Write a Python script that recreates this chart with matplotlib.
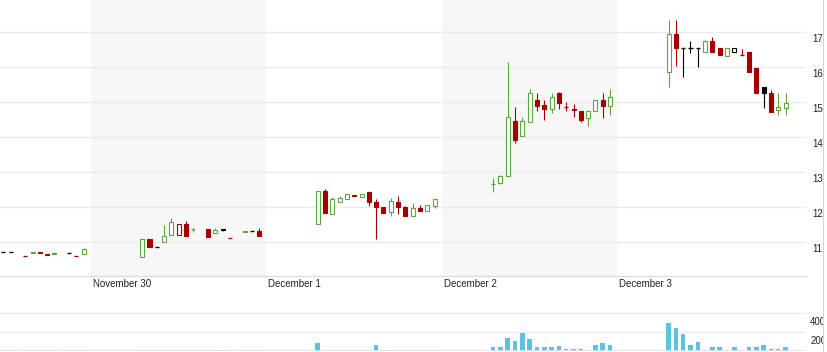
import matplotlib
matplotlib.use("Agg")
import matplotlib.pyplot as plt
from matplotlib.transforms import ScaledTranslation
from matplotlib.patches import Rectangle
from matplotlib.lines import Line2D

plt.rcParams['font.family'] = ['Liberation Sans', 'DejaVu Sans']

# hour offsets from November 30 00:00 (one candle per hour)
hours = [-12, -11, -9, -8, -7, -6, -5, -3, -2, -1,
         7, 8, 9, 10, 11, 12, 13, 14, 16, 17, 18, 19, 21, 22, 23,
         31, 32, 33, 34, 35, 36, 37, 38, 39, 40, 41, 42, 43, 44, 45, 46, 47,
         55, 56, 57, 58, 59, 60, 61, 62, 63, 64, 65, 66, 67, 68, 69, 70, 71,
         79, 80, 81, 82, 83, 84, 85, 86, 87, 88, 89, 90, 91, 92, 93, 94, 95]
opens = [10.70, 10.70, 10.60, 10.68, 10.71, 10.66, 10.64, 10.67, 10.60, 10.64,
         10.55, 11.07, 10.86, 10.98, 11.18, 11.18, 11.51, 11.35, 11.36, 11.24, 11.36, 11.10, 11.28, 11.30, 11.31,
         11.50, 12.44, 11.79, 12.13, 12.22, 12.33, 12.29, 12.41, 12.14, 12.00, 11.84, 12.14, 12.00, 11.74, 11.95, 11.89, 12.02,
         12.64, 12.69, 12.89, 14.45, 14.03, 14.43, 15.05, 14.90, 14.78, 15.24, 14.86, 14.79, 14.74, 14.53, 14.73, 15.04, 14.88,
         15.84, 16.93, 16.53, 16.53, 16.53, 16.41, 16.73, 16.53, 16.31, 16.42, 16.33, 16.43, 15.95, 15.43, 15.24, 14.77, 14.82]
highs = [10.70, 10.70, 10.60, 10.71, 10.71, 10.66, 10.72, 10.67, 10.60, 10.81,
         11.07, 11.09, 10.86, 11.48, 11.67, 11.51, 11.59, 11.35, 11.36, 11.40, 11.36, 11.10, 11.30, 11.30, 11.38,
         12.44, 12.51, 12.27, 12.31, 12.35, 12.33, 12.36, 12.43, 12.22, 12.00, 12.26, 12.31, 12.03, 12.10, 12.05, 12.05, 12.21,
         12.81, 12.90, 16.14, 14.86, 14.55, 15.35, 15.24, 15.04, 15.24, 15.27, 14.98, 14.93, 14.74, 14.77, 15.05, 15.26, 15.35,
         17.33, 17.33, 16.53, 16.73, 16.53, 16.75, 16.84, 16.53, 16.53, 16.53, 16.50, 16.43, 15.95, 15.43, 15.33, 15.24, 15.24]
lows = [10.70, 10.70, 10.60, 10.68, 10.69, 10.63, 10.64, 10.67, 10.60, 10.64,
        10.55, 10.84, 10.86, 10.98, 11.18, 11.18, 11.16, 11.29, 11.14, 11.24, 11.30, 11.10, 11.28, 11.30, 11.16,
        11.50, 11.81, 11.79, 12.13, 12.22, 12.30, 12.29, 12.03, 11.08, 11.81, 11.74, 11.79, 11.74, 11.74, 11.89, 11.89, 11.95,
        12.43, 12.66, 12.89, 13.83, 14.03, 14.43, 14.73, 14.48, 14.67, 14.78, 14.73, 14.57, 14.43, 14.31, 14.73, 14.53, 14.62,
        15.43, 16.02, 15.71, 16.40, 16.00, 16.41, 16.43, 16.33, 16.31, 16.42, 16.33, 15.84, 15.25, 14.83, 14.70, 14.62, 14.62]
closes = [10.70, 10.70, 10.60, 10.71, 10.69, 10.63, 10.67, 10.67, 10.60, 10.78,
          11.07, 10.86, 10.86, 11.16, 11.55, 11.51, 11.16, 11.35, 11.14, 11.33, 11.33, 11.10, 11.30, 11.30, 11.16,
          12.44, 11.81, 12.21, 12.26, 12.35, 12.30, 12.36, 12.14, 12.00, 11.81, 12.16, 12.00, 11.74, 11.95, 11.89, 12.05, 12.21,
          12.64, 12.89, 14.55, 13.91, 14.45, 15.24, 14.89, 14.78, 15.14, 14.95, 14.86, 14.75, 14.48, 14.74, 15.05, 14.89, 15.14,
          16.93, 16.53, 16.53, 16.53, 16.53, 16.73, 16.43, 16.33, 16.53, 16.53, 16.33, 15.84, 15.25, 15.25, 14.70, 14.85, 14.95]
volumes = [3, 3, 3, 8, 3, 3, 3, 3, 3, 3,
           3, 3, 3, 8, 3, 3, 3, 3, 3, 3, 3, 3, 3, 3, 3,
           77, 3, 8, 3, 3, 3, 3, 3, 53, 3, 8, 3, 3, 3, 3, 3, 3,
           42, 42, 130, 95, 189, 126, 42, 32, 32, 49, 21, 21, 21, 3, 53, 74, 53,
           287, 234, 171, 53, 87, 3, 32, 42, 3, 32, 3, 42, 32, 53, 21, 21, 42]

price_ticks = [11, 12, 13, 14, 15, 16, 17]
volume_ticks = [200, 400]
day_ticks = [0, 24, 48, 72]
day_labels = ["November 30", "December 1", "December 2", "December 3"]
shaded_days = [(0, 24), (48, 72)]

UP = "#5ea63d"
DOWN = "#a50000"
FLAT = "#000000"
GRID = "#ebebeb"
SHADE = "#f7f7f7"
VOL = "#5bc3de"

W, Hh = 828, 352
fig = plt.figure(figsize=(W / 100, Hh / 100), dpi=100)
ax = fig.add_axes([0, 76 / Hh, 806 / W, 276 / Hh])
axv = fig.add_axes([0, 1.5 / Hh, 806 / W, 54.5 / Hh])

xlim = (-12.45, 97.8)
for a in (ax, axv):
    a.set_xlim(*xlim)
    for s in a.spines.values():
        s.set_visible(False)
    a.set_axisbelow(True)

ax.set_ylim(10.02, 17.906)
for a0, a1 in shaded_days:
    ax.axvspan(a0, a1, color=SHADE, zorder=0.1, lw=0)

ax.set_yticks(price_ticks)
ax.yaxis.grid(True, color=GRID, lw=1)
ax.yaxis.tick_right()
ax.tick_params(axis='y', length=0, pad=4.5, labelsize=7, labelcolor='#222222')
off = ScaledTranslation(0, -6.3 / 100, fig.dpi_scale_trans)
for lab in ax.get_yticklabels():
    lab.set_transform(lab.get_transform() + off)

ax.set_xticks(day_ticks)
ax.set_xticklabels(day_labels)
ax.tick_params(axis='x', length=0, pad=2.5, labelsize=7, labelcolor='#222222')
xoff = ScaledTranslation(2 / 100, 0, fig.dpi_scale_trans)
for lab in ax.get_xticklabels():
    lab.set_horizontalalignment('left')
    lab.set_transform(lab.get_transform() + xoff)
ax.spines['bottom'].set_visible(True)
ax.spines['bottom'].set_color('#dddddd')
ax.spines['bottom'].set_linewidth(1)

bw = 0.55
lw = 0.8
prev = None
for h, o, hi, lo, c in zip(hours, opens, highs, lows, closes):
    if prev is None or c == prev:
        col = FLAT
    elif c > prev:
        col = UP
    else:
        col = DOWN
    ax.vlines(h, lo, hi, color=col, lw=lw, zorder=2)
    if c > o:
        ax.bar(h, c - o, bottom=o, width=bw, facecolor='white', edgecolor=col, linewidth=lw, zorder=3)
    elif c < o:
        ax.bar(h, o - c, bottom=c, width=bw, facecolor=col, edgecolor=col, linewidth=lw, zorder=3)
    else:
        ax.hlines(c, h - bw / 2, h + bw / 2, color=col, lw=lw * 1.2, zorder=3)
    prev = c

# volume panel
axv.set_ylim(0, 573.7)
axv.bar(hours, volumes, width=0.62, color=VOL, zorder=2, lw=0)
axv.set_yticks(volume_ticks)
axv.yaxis.grid(True, color=GRID, lw=1)
axv.yaxis.tick_right()
axv.tick_params(axis='y', length=0, pad=3, labelsize=7, labelcolor='#222222')
voff = ScaledTranslation(0, -8.5 / 100, fig.dpi_scale_trans)
for lab in axv.get_yticklabels():
    lab.set_transform(lab.get_transform() + voff)
axv.set_xticks([])
axv.axhline(0, color='#e4e4e4', lw=2, zorder=4)

# right border of the widget
fig.patches.append(Rectangle((824 / W, 0), 4 / W, 1, transform=fig.transFigure,
                             facecolor='white', edgecolor='none', zorder=10))
fig.lines.append(Line2D([823.5 / W, 823.5 / W], [0, 1], transform=fig.transFigure,
                        color='#d4d4d4', lw=0.8, zorder=11))

fig.savefig("out.png", dpi=100)
